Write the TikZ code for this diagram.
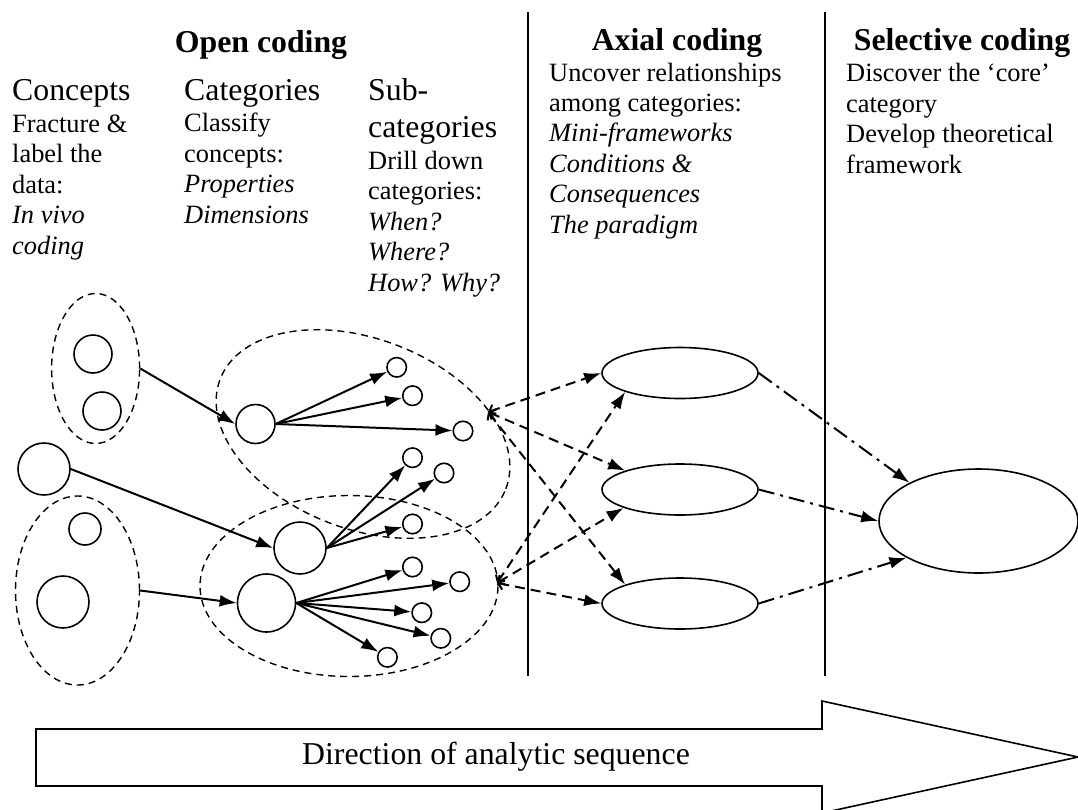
\documentclass[tikz,border=0pt]{standalone}
\usepackage{fontspec}
\setmainfont{Liberation Serif}
\usetikzlibrary{shapes.geometric,arrows.meta}

\begin{document}
\begin{tikzpicture}[x=1pt, y=-1pt, >={Latex[length=17pt,width=12pt]},
    txt/.style={inner sep=0pt, anchor=base west, align=left, font=\fontsize{26.4}{30.4}\selectfont},
    head/.style={inner sep=0pt, anchor=base west, align=left, font=\fontsize{31.8}{36.6}\selectfont},
    title/.style={inner sep=0pt, anchor=base, font=\bfseries\fontsize{31.8}{36.6}\selectfont},
    circ/.style={draw, circle, line width=1.6pt, inner sep=0pt},
    group/.style={draw, ellipse, dash pattern=on 7pt off 5pt, line width=1.4pt, inner sep=0pt},
    oval/.style={draw, ellipse, line width=1.6pt, inner sep=0pt},
    link/.style={->, line width=2pt},
    rel/.style={{Straight Barb[length=5pt,width=11pt]}->, line width=2pt, dash pattern=on 10pt off 6pt},
    lead/.style={->, line width=2pt, dash pattern=on 16pt off 6pt on 3pt off 6pt}]
            \useasboundingbox (0,0) rectangle (1078,809);

            % headings and texts (base = last line)
            \node[title] (open) at (261,52) {Open coding};
            \node[title] (axial) at (677,50) {Axial coding};
            \node[title] (selective) at (962,50) {Selective coding};

            \node[head] (concepts) at (12,100) {Concepts};
            \node[txt] (concepts-t) at (12,254) {Fracture \&\\label the\\data:\\\textit{In vivo}\\\textit{coding}};
            \node[head] (categories) at (184,100) {Categories};
            \node[txt] (categories-t) at (184,223) {Classify\\concepts:\\\textit{Properties}\\\textit{Dimensions}};
            \node[head] (subcat) at (368,137) {Sub-\\categories};
            \node[txt] (subcat-t) at (368,291) {Drill down\\categories:\\\textit{When?}\\\textit{Where?}\\\textit{How? Why?}};
            \node[txt] (axial-t) at (549,233) {Uncover relationships\\among categories:\\\textit{Mini-frameworks}\\\textit{Conditions \&}\\\textit{Consequences}\\\textit{The paradigm}};
            \node[txt] (selective-t) at (846,173) {Discover the `core'\\category\\Develop theoretical\\framework};

            \draw[line width=1.5pt] (528,12) -- (528,676);
            \draw[line width=1.5pt] (825,12) -- (825,676);

            % concepts
            \node[circ, minimum size=38] (co1) at (93,354) {};
            \node[circ, minimum size=38] (co2) at (102,411) {};
            \node[circ, minimum size=52] (co3) at (44,469) {};
            \node[circ, minimum size=32] (co4) at (85,529) {};
            \node[circ, minimum size=52] (co5) at (63,602) {};
            \node[group, minimum width=88, minimum height=150] (g1) at (95.6,368.5) {};
            \node[group, minimum width=124, minimum height=189] (g2) at (77.5,590.5) {};

            % categories
            \node[group, minimum width=306, minimum height=190, rotate=-21] (g3) at (363,434) {};
            \node[group, minimum width=298, minimum height=181] (g4) at (349,586) {};
            \node[circ, minimum size=39] (ca1) at (255.5,424) {};
            \node[circ, minimum size=52] (ca2) at (300,548) {};
            \node[circ, minimum size=58] (ca3) at (266.5,603) {};

            % sub-categories
            \node[circ, minimum size=19.5] (sc1) at (396.7,367.3) {};
            \node[circ, minimum size=19.5] (sc2) at (412.5,395.7) {};
            \node[circ, minimum size=19.5] (sc3) at (463,431) {};
            \node[circ, minimum size=19.5] (sc4) at (412.5,457.7) {};
            \node[circ, minimum size=19.5] (sc5) at (444,473) {};
            \node[circ, minimum size=19.5] (sc6) at (412.5,524) {};
            \node[circ, minimum size=19.5] (sc7) at (412.5,567) {};
            \node[circ, minimum size=19.5] (sc8) at (459.7,581.7) {};
            \node[circ, minimum size=19.5] (sc9) at (421.8,612.7) {};
            \node[circ, minimum size=19.5] (sc10) at (440.8,638.3) {};
            \node[circ, minimum size=19.5] (sc11) at (387.4,657.3) {};

            % axial and core
            \node[oval, minimum width=156, minimum height=51] (ax1) at (680,373) {};
            \node[oval, minimum width=156, minimum height=51] (ax2) at (680,489.5) {};
            \node[oval, minimum width=156, minimum height=51] (ax3) at (680,603.5) {};
            \node[oval, minimum width=199, minimum height=104] (core) at (978.5,521) {};

            \coordinate (src1) at (488,412);
            \coordinate (src2) at (497,583);

            \draw[link] (g1.east) -- (ca1.west);
            \draw[link] (co3.east) -- (ca2.west);
            \draw[link] (g2.east) -- (ca3.west);

            \draw[link] (ca1.east) -- (sc1);
            \draw[link] (ca1.east) -- (sc2);
            \draw[link] (ca1.east) -- (sc3);
            \draw[link] (ca2.east) -- (sc4);
            \draw[link] (ca2.east) -- (sc5);
            \draw[link] (ca2.east) -- (sc6);
            \draw[link] (ca3.east) -- (sc7);
            \draw[link] (ca3.east) -- (sc8);
            \draw[link] (ca3.east) -- (sc9);
            \draw[link] (ca3.east) -- (sc10);
            \draw[link] (ca3.east) -- (sc11);

            \draw[rel] (src1) -- (ax1.west);
            \draw[rel] (src1) -- (ax2.161);
            \draw[rel] (src1) -- (ax3.161);
            \draw[rel] (src2) -- (ax1.199);
            \draw[rel] (src2) -- (ax2.198);
            \draw[rel] (src2) -- (ax3.west);

            \draw[lead] (ax1.east) -- (core.151);
            \draw[lead] (ax2.east) -- (core.west);
            \draw[lead] (ax3.east) -- (core.207);

            % direction arrow
            \draw[line width=1.6pt] (36,729) -- (822,729) -- (822,701) -- (1078,757) -- (822,813) -- (822,786) -- (36,786) -- cycle;
            \node[inner sep=0pt, anchor=base, font=\fontsize{31.8}{36.6}\selectfont] (direction) at (496,764) {Direction of analytic sequence};
        \end{tikzpicture}
\end{document}
